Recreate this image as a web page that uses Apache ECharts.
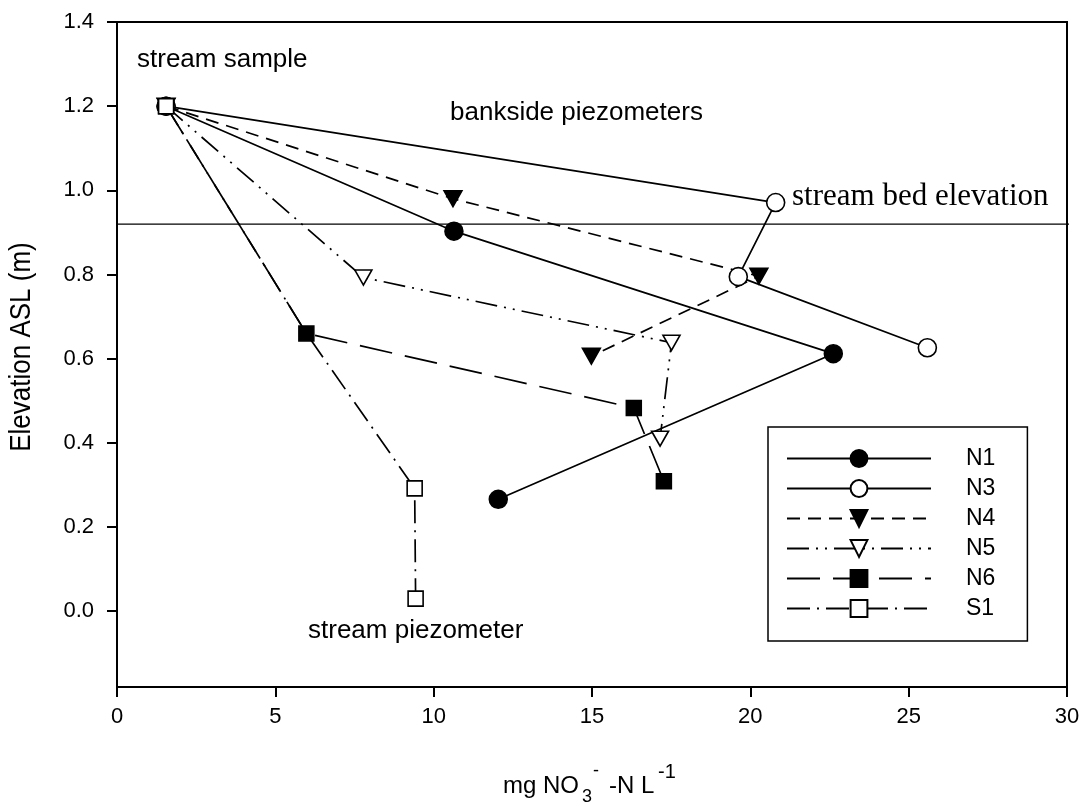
<!DOCTYPE html>
<html><head><meta charset="utf-8">
<script src="https://cdn.jsdelivr.net/npm/echarts@6/dist/echarts.min.js"></script>
<style>html,body{margin:0;padding:0;background:#fff}#c{width:1088px;height:806px}</style>
</head><body><div id="c"></div>
<script>
// ---- data (x: mg NO3--N L-1, y: elevation ASL m) ----
const N1 = [[1.55,1.2],[10.64,0.903],[22.62,0.612],[12.04,0.266]];
const N3 = [[1.55,1.2],[20.80,0.971],[19.62,0.795],[25.59,0.626]];
const N4 = [[1.55,1.2],[10.61,0.980],[20.27,0.796],[14.98,0.606]];
const N5 = [[1.55,1.2],[7.78,0.793],[17.51,0.638],[17.15,0.410]];
const N6 = [[1.55,1.2],[5.98,0.660],[16.32,0.483],[17.27,0.309]];
const S1 = [[1.55,1.2],[5.98,0.660],[9.40,0.292],[9.43,0.030]];
const streamBedElevation = 0.92;
const seriesNames = ['N1','N3','N4','N5','N6','S1'];
const xTicks = [0,5,10,15,20,25,30];
const yTicks = [0,0.2,0.4,0.6,0.8,1.0,1.2,1.4];

const FONT = 'Liberation Sans, Arial, sans-serif';
const black = '#000';
const filled = {color: black, borderColor: black, borderWidth: 1.5};
const open = {color: '#fff', borderColor: black, borderWidth: 1.6};

function mk(name, data, symbol, size, item, dash, rotate) {
  return {
    name, type: 'line', data, symbol, symbolSize: size, symbolRotate: rotate || 0,
    itemStyle: item, lineStyle: {color: black, width: 1.7, type: dash},
    emphasis: {disabled: true}, animation: false, z: 3
  };
}
function txt(x, y, text, size, extra) {
  return Object.assign({type: 'text', x, y,
    style: {text, font: size + 'px ' + FONT, fill: black, align: 'left', verticalAlign: 'middle'}}, extra || {});
}

const chart = echarts.init(document.getElementById('c'));
const S1data = S1.map((p, i) => i === 1 ? {value: p, symbol: 'none'} : p);
const option = {
  animation: false,
  grid: {left: 117, right: 21, top: 22, bottom: 119, show: true, borderColor: black, borderWidth: 2, backgroundColor: 'transparent'},
  xAxis: {
    type: 'value', min: 0, max: 30, interval: 5,
    axisLine: {show: true, onZero: false, lineStyle: {color: black, width: 2}},
    axisTick: {show: true, inside: false, length: 10, lineStyle: {color: black, width: 2}, customValues: xTicks},
    axisLabel: {color: black, fontSize: 22, fontFamily: FONT, margin: 19, customValues: xTicks},
    splitLine: {show: false}
  },
  yAxis: {
    type: 'value', min: -0.18, max: 1.4,
    axisLine: {show: true, onZero: false, lineStyle: {color: black, width: 2}},
    axisTick: {show: true, inside: false, length: 10, lineStyle: {color: black, width: 2}, customValues: yTicks},
    axisLabel: {color: black, fontSize: 22, fontFamily: FONT, margin: 23, customValues: yTicks,
      formatter: v => v.toFixed(1)},
    splitLine: {show: false}
  },
  legend: {
    orient: 'vertical', left: 768, top: 427,
    data: seriesNames,
    itemWidth: 144, itemHeight: 21, itemGap: 7,
    padding: [20, 32, 21, 18],
    backgroundColor: '#fff', borderColor: black, borderWidth: 1.5, borderRadius: 0,
    selectedMode: false,
    formatter: n => '{p|}' + n,
    textStyle: {color: black, fontSize: 23, fontFamily: FONT, rich: {p: {width: 30}}}
  },
  series: [
    {type: 'line', name: 'bed', data: [[0, streamBedElevation], [30.2, streamBedElevation]], symbol: 'none', clip: false,
     lineStyle: {color: black, width: 1.3}, z: 1, silent: true, animation: false},
    mk('N1', N1, 'circle', 18, filled, 'solid'),
    mk('N3', N3, 'circle', 18, open, 'solid'),
    mk('N4', N4, 'triangle', [18, 16], filled, [13, 8], 180),
    mk('N5', N5, 'triangle', [17, 15], open, [22, 7, 2, 7, 2, 7], 180),
    mk('N6', N6, 'rect', 15, filled, [33, 13]),
    mk('S1', S1data, 'rect', 15, open, [23, 7, 2, 7])
  ],
  graphic: [
    {type: 'text', left: 137, top: 47, style: {text: 'stream sample', font: '26px ' + FONT, fill: black}},
    {type: 'text', left: 450, top: 100, style: {text: 'bankside piezometers', font: '26px ' + FONT, fill: black}},
    {type: 'text', left: 308, top: 618, style: {text: 'stream piezometer', font: '26px ' + FONT, fill: black}},
    {type: 'text', left: 792, top: 181, style: {text: 'stream bed elevation', font: '31px Liberation Serif, Times New Roman, serif', fill: black}},
    {type: 'text', x: 22, y: 347, rotation: Math.PI / 2, scaleY: 1.12,
     style: {text: 'Elevation ASL (m)', font: '26px ' + FONT, fill: black, align: 'center', verticalAlign: 'middle'}},
    txt(503, 786.5, 'mg NO', 24),
    txt(582, 797, '3', 18),
    txt(593, 771, '-', 18),
    txt(609, 786.5, '-N L', 24),
    txt(658, 772.5, '-1', 20)
  ]
};
chart.setOption(option);
</script>
</body></html>
